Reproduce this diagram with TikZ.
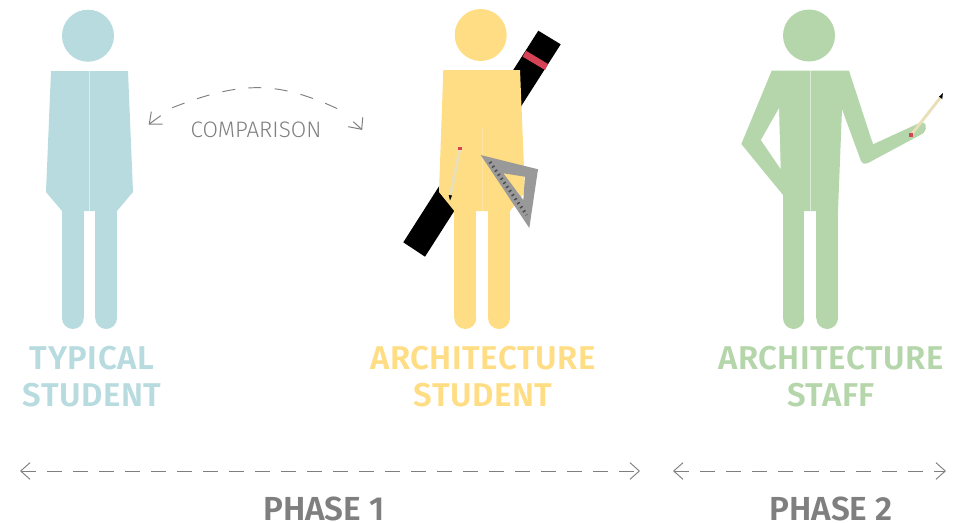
\documentclass[tikz,border=0pt]{standalone}
\usepackage{fontspec}
\setmainfont{Fira Sans}
\newfontfamily\titlefont[LetterSpace=1.6]{Fira Sans SemiBold}
\newfontfamily\phasefont{Fira Sans SemiBold}
\newfontfamily\lightfont{Fira Sans Light}
\usetikzlibrary{arrows.meta}
\definecolor{cblue}{HTML}{B7DBDF}
\definecolor{cyellow}{HTML}{FFDD85}
\definecolor{cgreen}{HTML}{B5D6AB}
\definecolor{cred}{HTML}{D64356}
\definecolor{cgrey}{HTML}{999999}
\definecolor{cpencil}{HTML}{E9DFB8}
\definecolor{ctext}{HTML}{7F7F7F}
\tikzset{
 x=0.75pt,y=-0.75pt,
 seam/.style={white,opacity=.5,line width=.5pt},
 head/.style={circle,minimum size=39pt,inner sep=0pt},
 title/.style={font=\fontsize{24.7}{27.4}\selectfont\titlefont,align=center,inner sep=0pt},
 phase/.style={font=\fontsize{25}{28}\selectfont\phasefont,text=ctext,inner sep=0pt,anchor=base},
 pencil/.style={cpencil,line width=2.2pt},
 guide/.style={draw=ctext,line width=.7pt,dash pattern=on 11.3pt off 8.2pt,
   {Straight Barb[length=7pt,width=12.5pt,line width=.7pt]}-{Straight Barb[length=7pt,width=12.5pt,line width=.7pt]}},
 barb/.style={draw=ctext,line width=.75pt},
}
\begin{document}
\begin{tikzpicture}
\useasboundingbox (0,0) rectangle (959,522);
% ---------- blue
\begin{scope}[cblue]
\node[head,fill=cblue] (headA) at (88,35.7) {};
\fill (51,71) -- (128,71) -- (133,192) -- (117,211) -- (62,211) -- (46,192) -- cycle;
\fill (62,205) rectangle (83.7,318);
\fill (62,318) arc[start angle=180,end angle=360,x radius=10.85,y radius=-11] -- cycle;
\fill (95.3,205) rectangle (117,318);
\fill (95.3,318) arc[start angle=180,end angle=360,x radius=10.85,y radius=-11] -- cycle;
\end{scope}
\draw[seam] (89.5,71) -- (89.5,211);
% ---------- yellow
\fill[black] (538.3,30.7) -- (560.7,44.3) -- (425,256.7) -- (403.3,242.3) -- cycle;
\fill[cred] (526,50.7) -- (548,64) -- (545,70) -- (522.7,56.7) -- cycle;
\begin{scope}[cyellow]
\node[head,fill=cyellow] (headB) at (480.7,35) {};
\fill (443.3,70) -- (520,70) -- (525,192) -- (510,211) -- (454.3,211) -- (439,192) -- cycle;
\fill (454.3,205) rectangle (476.3,318);
\fill (454.3,318) arc[start angle=180,end angle=360,x radius=11,y radius=-11] -- cycle;
\fill (488,205) rectangle (510,318);
\fill (488,318) arc[start angle=180,end angle=360,x radius=11,y radius=-11] -- cycle;
\end{scope}
\draw[white,opacity=.25,line width=.5pt] (482,127) -- (482,211);
\draw[pencil] (460,148) -- (450.4,195);
\fill[cred] (458.3,146.5) rectangle (461.8,150);
\fill[black] (448.7,195) -- (452,195.5) -- (450,200.5) -- cycle;
\fill[cgrey,even odd rule] (480.7,155) -- (538,169.3) -- (529.3,228) -- cycle
  (503.3,173.3) -- (525,176.7) -- (523.3,200) -- cycle;
\draw[black!70,line width=2.4pt,dash pattern=on 1.1pt off 2.6pt] (490,162) -- (526.7,215);
% ---------- green
\begin{scope}[cgreen]
\node[head,fill=cgreen] (headC) at (809,35.5) {};
\fill (771.7,70.7) -- (849,70.7) -- (873,144.3) -- (920,122.7)
  .. controls (925,120.5) and (929,127) .. (923,133.5) -- (868,163)
  .. controls (864,164.5) and (862,163.5) .. (861,161) -- (842,109.3) -- (838,211)
  -- (783,211) -- (783,195) -- (741.3,144) -- cycle;
\fill (783,205) rectangle (804.3,318);
\fill (783,318) arc[start angle=180,end angle=360,x radius=10.65,y radius=-11] -- cycle;
\fill (816.3,205) rectangle (838,318);
\fill (816.3,318) arc[start angle=180,end angle=360,x radius=10.85,y radius=-11] -- cycle;
\end{scope}
\fill[white] (779,108.3) -- (761,140) -- (780.7,169) -- cycle;
\draw[seam] (810.3,71) -- (810.3,211);
\draw[pencil] (911,135) -- (940.5,97.5);
\fill[cred] (909,133) rectangle (913,137);
\fill[black] (939,96.7) -- (942.3,99) -- (942.9,93) -- cycle;
% ---------- labels
\node[title,text=cblue] (lblA) at (92,376.4) {TYPICAL\\STUDENT};
\node[title,text=cyellow] (lblB) at (483,376.4) {ARCHITECTURE\\STUDENT};
\node[title,text=cgreen] (lblC) at (831,376.4) {ARCHITECTURE\\STAFF};
\node[font=\fontsize{16.8}{19}\selectfont\lightfont,text=ctext,inner sep=0pt] (cmp) at (256,130) {COMPARISON};
% ---------- comparison connector
\coordinate (cl) at (149.3,124);
\coordinate (cr) at (361.7,129.3);
\coordinate (cs) at (172.3,107.7);
\coordinate (ce) at (341.7,110.7);
\draw[draw=ctext,line width=.7pt,dash pattern=on 9.75pt off 10pt]
  (cs) .. controls (242,80.5) and (278,80.5) .. (ce);
\draw[barb] (151.3,111.7) -- (cl) -- (162.7,124);
\draw[barb] (160.7,115.7) -- (cl);
\draw[barb] (362.7,117.3) -- (cr) -- (348.3,126.7);
\draw[barb] (353.3,121.7) -- (cr);
% ---------- phase connectors
\coordinate (p1a) at (20,471);
\coordinate (p1b) at (640,471);
\coordinate (p2a) at (673,471);
\coordinate (p2b) at (946,471);
\draw[guide] (p1a) -- (p1b);
\draw[guide] (p2a) -- (p2b);
\node[phase] (ph1) at (324,520.5) {PHASE 1};
\node[phase] (ph2) at (831,520.5) {PHASE 2};
\end{tikzpicture}
\end{document}
